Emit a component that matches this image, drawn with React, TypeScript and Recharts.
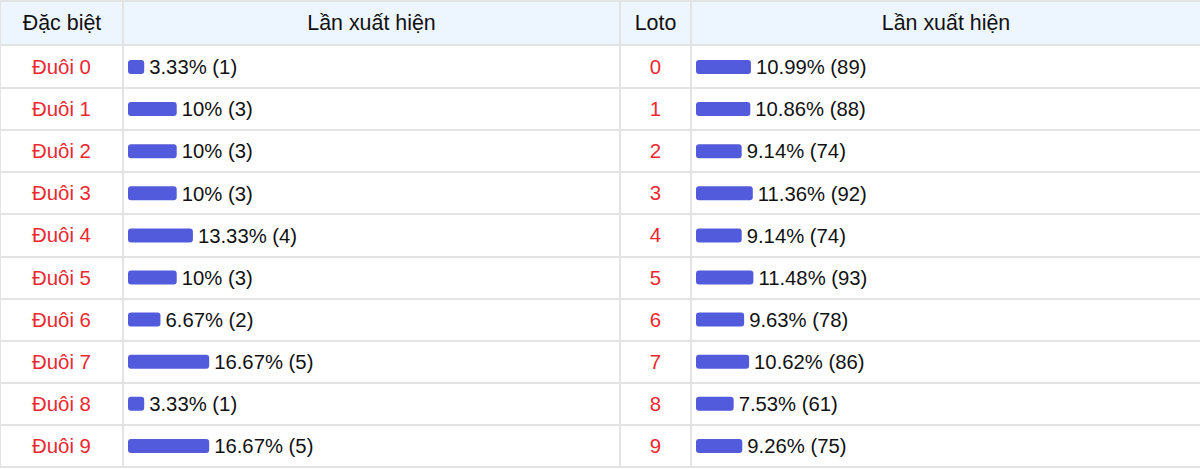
import React from "react";
import { BarChart, Bar, XAxis, YAxis, LabelList } from "recharts";

const leftCategories = ["Đuôi 0", "Đuôi 1", "Đuôi 2", "Đuôi 3", "Đuôi 4", "Đuôi 5", "Đuôi 6", "Đuôi 7", "Đuôi 8", "Đuôi 9"];
const leftPercents = [3.33, 10, 10, 10, 13.33, 10, 6.67, 16.67, 3.33, 16.67];
const leftCounts = [1, 3, 3, 3, 4, 3, 2, 5, 1, 5];

const rightCategories = ["0", "1", "2", "3", "4", "5", "6", "7", "8", "9"];
const rightPercents = [10.99, 10.86, 9.14, 11.36, 9.14, 11.48, 9.63, 10.62, 7.53, 9.26];
const rightCounts = [89, 88, 74, 92, 74, 93, 78, 86, 61, 75];

const headers = ["Đặc biệt", "Lần xuất hiện", "Loto", "Lần xuất hiện"];

const leftData = leftCategories.map((name, i) => ({
  name,
  pct: leftPercents[i],
  labelText: `${leftPercents[i]}% (${leftCounts[i]})`,
}));
const rightData = rightCategories.map((name, i) => ({
  name,
  pct: rightPercents[i],
  labelText: `${rightPercents[i]}% (${rightCounts[i]})`,
}));

const FONT = "'Liberation Sans', Arial, sans-serif";
const LINE = "#e3e3e3";
const RED = "#ec2830";
const BAR = "#525bdb";
const HEADER_BG = "#edf5fe";

const W = 1200;
const H = 469;
const HEADER_H = 44;
const ROWS_TOP = 46;
const ROWS_H = 421;
const COLS = [0, 122, 619, 690, 1200];

const makeTick = (axisWidth: number, colWidth: number) => (props: any) => {
  const { x, y, payload } = props;
  return (
    <text
      x={x - axisWidth + colWidth / 2}
      y={y}
      textAnchor="middle"
      dominantBaseline="central"
      fill={RED}
      fontSize={20.4}
      fontFamily={FONT}
    >
      {payload.value}
    </text>
  );
};

export default function App() {
  const rowLines = [] as React.ReactNode[];
  for (let i = 0; i <= 10; i++) {
    const y = ROWS_TOP + (ROWS_H * i) / 10 - (i === 0 ? 2 : 1);
    rowLines.push(
      <div key={"r" + i} style={{ position: "absolute", left: 0, top: y, width: W, height: 2, background: LINE }} />
    );
  }
  return (
    <div style={{ position: "absolute", left: 0, top: 0, width: W, height: H, fontFamily: FONT, background: "#fff", overflow: "hidden" }}>
      <div style={{ position: "absolute", left: 0, top: 0, width: W, height: HEADER_H, background: HEADER_BG }} />
      <div style={{ position: "absolute", left: 0, top: 0, width: W, height: 2, background: LINE }} />
      {rowLines}
      {COLS.slice(1, 4).map((x, i) => (
        <div key={"c" + i} style={{ position: "absolute", left: x, top: 0, width: 2, height: ROWS_TOP + ROWS_H, background: LINE }} />
      ))}
      <div style={{ position: "absolute", left: 0, top: 0, width: 1, height: ROWS_TOP + ROWS_H, background: LINE }} />
      {headers.map((h, i) => (
        <div
          key={"h" + i}
          style={{
            position: "absolute",
            left: COLS[i],
            top: 2,
            width: COLS[i + 1] - COLS[i] + 2,
            height: HEADER_H - 2,
            lineHeight: HEADER_H - 2 + "px",
            textAlign: "center",
            fontSize: 21.4,
            color: "#111",
          }}
        >
          {h}
        </div>
      ))}
      <div style={{ position: "absolute", left: 0, top: ROWS_TOP }}>
        <BarChart
          width={620}
          height={ROWS_H}
          data={leftData}
          layout="vertical"
          margin={{ top: 0, right: 5, bottom: 0, left: 0 }}
        >
          <XAxis type="number" domain={[0, 100]} hide />
          <YAxis
            type="category"
            dataKey="name"
            width={128}
            axisLine={false}
            tickLine={false}
            tickSize={0}
            tickMargin={0}
            interval={0}
            tick={makeTick(128, 123)}
          />
          <Bar dataKey="pct" fill={BAR} barSize={14} radius={3} isAnimationActive={false}>
            <LabelList dataKey="labelText" position="right" offset={5} fill="#111" fontSize={20.3} fontFamily={FONT} />
          </Bar>
        </BarChart>
      </div>
      <div style={{ position: "absolute", left: 620, top: ROWS_TOP }}>
        <BarChart
          width={580}
          height={ROWS_H}
          data={rightData}
          layout="vertical"
          margin={{ top: 0, right: 4, bottom: 0, left: 0 }}
        >
          <XAxis type="number" domain={[0, 100]} hide />
          <YAxis
            type="category"
            dataKey="name"
            width={76}
            axisLine={false}
            tickLine={false}
            tickSize={0}
            tickMargin={0}
            interval={0}
            tick={makeTick(76, 71)}
          />
          <Bar dataKey="pct" fill={BAR} barSize={14} radius={3} isAnimationActive={false}>
            <LabelList dataKey="labelText" position="right" offset={5} fill="#111" fontSize={20.3} fontFamily={FONT} />
          </Bar>
        </BarChart>
      </div>
    </div>
  );
}
